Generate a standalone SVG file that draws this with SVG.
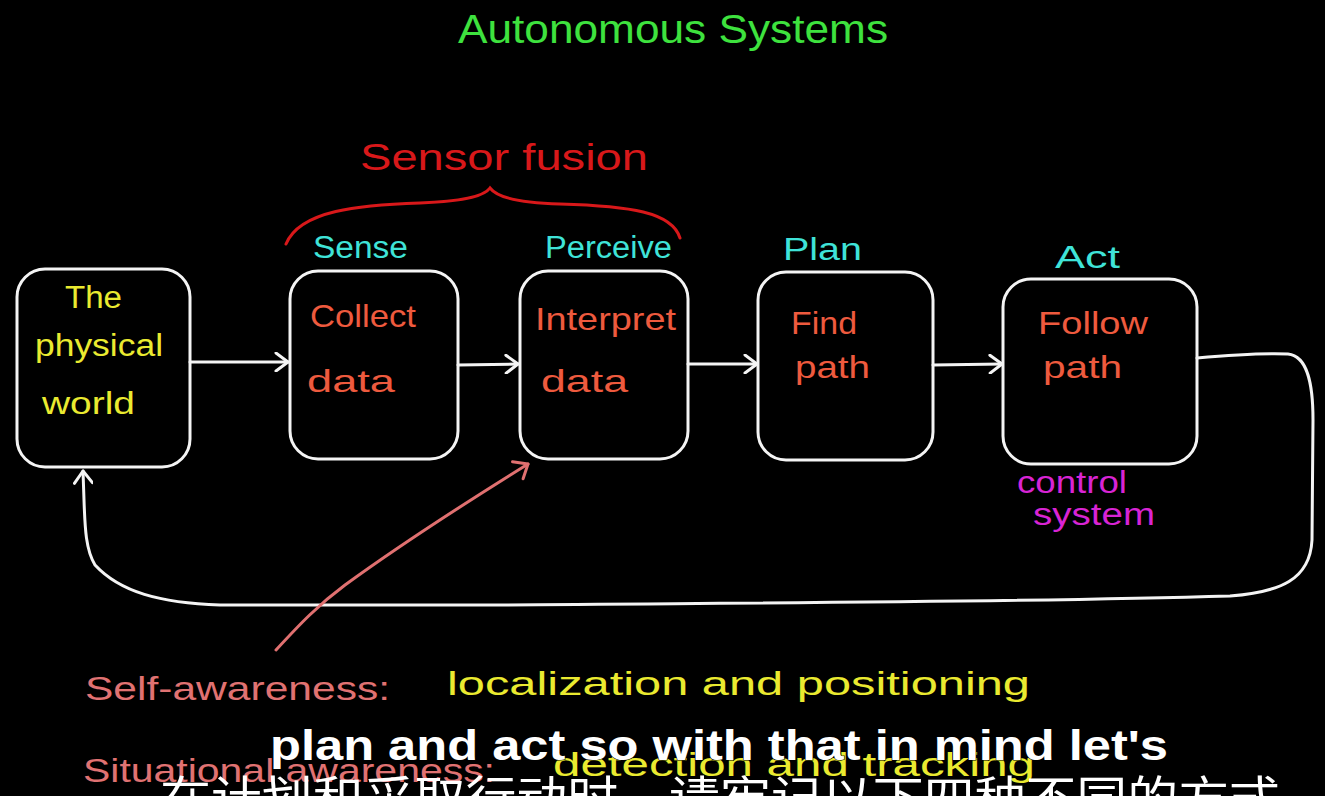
<svg xmlns="http://www.w3.org/2000/svg" width="1325" height="796" viewBox="0 0 1325 796">
<defs>
<style>
.box{fill:none;stroke:#f4f4f4;stroke-width:3;stroke-linejoin:round}
.ln{fill:none;stroke:#f4f4f4;stroke-width:3;stroke-linecap:round;stroke-linejoin:round}
.hw{font-family:"Liberation Sans","DejaVu Sans",sans-serif;font-weight:normal}
.cy{fill:#3fe3d8;font-size:31px}
.or{fill:#ee5a3e;font-size:32px}
.ye{fill:#eaea30;font-size:31px}
.sub{font-family:"Liberation Sans",Arial,sans-serif;font-weight:bold;fill:#ffffff;stroke:#000;stroke-width:1;paint-order:stroke}
</style>
<marker id="ah" markerWidth="20" markerHeight="20" refX="14" refY="10" orient="auto" markerUnits="userSpaceOnUse">
<path d="M2,1 L14,10 L2,19" fill="none" stroke="#f4f4f4" stroke-width="3" stroke-linecap="round" stroke-linejoin="round"/>
</marker>
<marker id="ahp" markerWidth="24" markerHeight="24" refX="14" refY="12" orient="auto" markerUnits="userSpaceOnUse">
<path d="M2,2 L14,12 L2,22" fill="none" stroke="#e07070" stroke-width="3" stroke-linecap="round" stroke-linejoin="round"/>
</marker>
</defs>
<rect x="0" y="0" width="1325" height="796" fill="#000"/>

<g id="title">
<text class="hw" x="458" y="43" font-size="40" fill="#3ee23e" textLength="430" lengthAdjust="spacingAndGlyphs">Autonomous  Systems</text>
</g>

<g id="sensor-fusion">
<text class="hw" x="360" y="170" font-size="36" fill="#d8181a" textLength="288" lengthAdjust="spacingAndGlyphs">Sensor  fusion</text>
<path d="M286,244 C300,210 360,205 420,203 C470,201 485,195 490,188 C496,196 515,203 560,204 C630,206 672,212 680,238" fill="none" stroke="#d8181a" stroke-width="3" stroke-linecap="round"/>
</g>

<g id="stage-labels">
<text class="hw cy" x="313" y="258" textLength="95" lengthAdjust="spacingAndGlyphs">Sense</text>
<text class="hw cy" x="545" y="258" textLength="127" lengthAdjust="spacingAndGlyphs">Perceive</text>
<text class="hw cy" x="783" y="260" textLength="79" lengthAdjust="spacingAndGlyphs">Plan</text>
<text class="hw cy" x="1055" y="268" textLength="65" lengthAdjust="spacingAndGlyphs">Act</text>
</g>

<g id="node-world">
<rect class="box" x="17" y="269" width="173" height="198" rx="28"/>
<text class="hw ye" x="65" y="308" textLength="57" lengthAdjust="spacingAndGlyphs">The</text>
<text class="hw ye" x="35" y="356" textLength="128" lengthAdjust="spacingAndGlyphs">physical</text>
<text class="hw ye" x="42" y="414" textLength="93" lengthAdjust="spacingAndGlyphs">world</text>
</g>

<g id="node-sense">
<rect class="box" x="290" y="271" width="168" height="188" rx="28"/>
<text class="hw or" x="310" y="327" textLength="106" lengthAdjust="spacingAndGlyphs">Collect</text>
<text class="hw or" x="307" y="392" textLength="88" lengthAdjust="spacingAndGlyphs">data</text>
</g>

<g id="node-perceive">
<rect class="box" x="520" y="271" width="168" height="188" rx="28"/>
<text class="hw or" x="535" y="330" textLength="141" lengthAdjust="spacingAndGlyphs">Interpret</text>
<text class="hw or" x="541" y="392" textLength="87" lengthAdjust="spacingAndGlyphs">data</text>
</g>

<g id="node-plan">
<rect class="box" x="758" y="272" width="175" height="188" rx="28"/>
<text class="hw or" x="791" y="334" textLength="66" lengthAdjust="spacingAndGlyphs">Find</text>
<text class="hw or" x="795" y="378" textLength="75" lengthAdjust="spacingAndGlyphs">path</text>
</g>

<g id="node-act">
<rect class="box" x="1003" y="279" width="194" height="185" rx="28"/>
<text class="hw or" x="1038" y="334" textLength="110" lengthAdjust="spacingAndGlyphs">Follow</text>
<text class="hw or" x="1043" y="378" textLength="79" lengthAdjust="spacingAndGlyphs">path</text>
<text class="hw" x="1017" y="493" font-size="31" fill="#d824d4" textLength="110" lengthAdjust="spacingAndGlyphs">control</text>
<text class="hw" x="1033" y="525" font-size="31" fill="#d824d4" textLength="122" lengthAdjust="spacingAndGlyphs">system</text>
</g>

<g id="connectors">
<path class="ln" d="M190,362 L288,362" marker-end="url(#ah)"/>
<path class="ln" d="M458,365 L518,364" marker-end="url(#ah)"/>
<path class="ln" d="M688,364 L757,364" marker-end="url(#ah)"/>
<path class="ln" d="M933,365 L1002,364" marker-end="url(#ah)"/>
<path class="ln" d="M1197,358 C1230,355 1260,353 1288,354 C1308,356 1313,385 1313,420 L1312,540 C1310,580 1280,592 1230,596 C1000,603 700,603 500,605 L220,605 C160,603 120,592 95,565 C86,550 85,530 84,500 L83,471" marker-end="url(#ah)"/>
<path d="M276,650 C300,624 318,605 345,585 C400,545 470,500 528,464" fill="none" stroke="#e07070" stroke-width="3" stroke-linecap="round" marker-end="url(#ahp)"/>
</g>

<g id="notes">
<text class="hw" x="85" y="700" font-size="34" fill="#e07272" textLength="305" lengthAdjust="spacingAndGlyphs">Self-awareness:</text>
<text class="hw" x="447" y="695" font-size="34" fill="#eaea30" textLength="583" lengthAdjust="spacingAndGlyphs">localization  and  positioning</text>
<text class="hw" x="83" y="782" font-size="34" fill="#e07272" textLength="412" lengthAdjust="spacingAndGlyphs">Situational awareness:</text>
<text class="hw" x="553" y="776" font-size="34" fill="#eaea30" textLength="482" lengthAdjust="spacingAndGlyphs">detection  and  tracking</text>
</g>

<g id="subtitles">
<text class="sub" x="270" y="760" font-size="42" textLength="898" lengthAdjust="spacingAndGlyphs">plan and act so with that in mind let's</text>
<text x="160" y="814" font-size="46" fill="#ffffff" font-family="'Noto Sans CJK SC',sans-serif" textLength="1120" lengthAdjust="spacingAndGlyphs">在计划和采取行动时，请牢记以下四种不同的方式</text>
</g>
</svg>
